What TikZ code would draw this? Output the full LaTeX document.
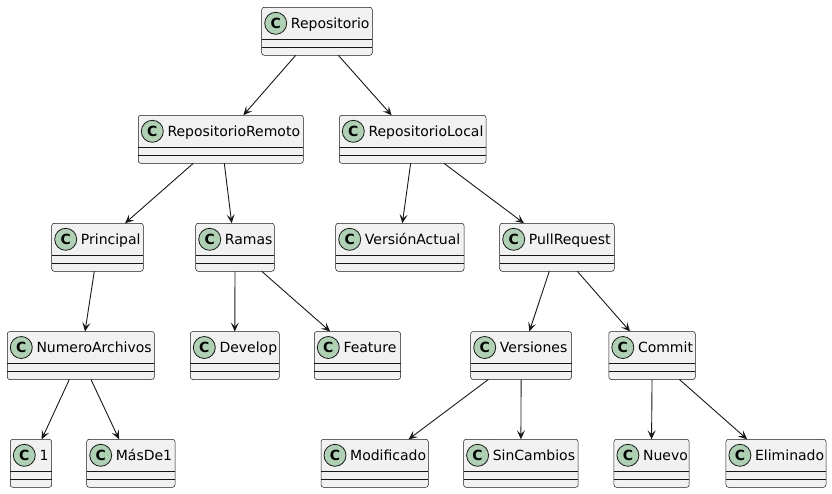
\documentclass[tikz,border=0pt]{standalone}
\usepackage{fontspec}
\setmainfont{DejaVu Sans}
\usetikzlibrary{arrows.meta,calc}
\definecolor{umlline}{HTML}{181818}
\definecolor{umlfill}{HTML}{F1F1F1}
\definecolor{umlcirc}{HTML}{ADD1B2}
\tikzset{
  umlbox/.style={draw=umlline, line width=0.5pt, fill=umlfill, rounded corners=2.5pt, rectangle, inner sep=0pt, outer sep=0pt, anchor=north west},
  umldiv/.style={draw=umlline, line width=0.5pt},
  umlcircle/.style={circle, draw=umlline, line width=0.8pt, fill=umlcirc, minimum size=22pt, inner sep=0pt, font=\fontsize{14}{14}\selectfont\bfseries},
  umllbl/.style={anchor=base west, inner sep=0pt, font=\fontsize{14}{16}\selectfont},
  umlarr/.style={draw=umlline, line width=0.9pt, -{Stealth[length=9pt,width=8pt,inset=4pt]}},
}
\newcommand\umlcls[5]{%
  \pgfmathsetmacro\clsw{#4-#2}%
  \node[umlbox, minimum width=\clsw pt, minimum height=48pt] (#1) at (#2,#3) {};
  \draw[umldiv] ([yshift=-32pt]#1.north west) -- ([yshift=-32pt]#1.north east);
  \draw[umldiv] ([yshift=-40pt]#1.north west) -- ([yshift=-40pt]#1.north east);
  \node[umlcircle] (#1-c) at ([xshift=14pt,yshift=-16pt]#1.north west) {C};
  \node[umllbl] (#1-t) at ([xshift=29pt,yshift=-21.3pt]#1.north west) {#5};
}
\begin{document}
\begin{tikzpicture}[x=1pt,y=-1pt]
\useasboundingbox (0,0) rectangle (832,493);
\umlcls{rep}{261.7}{7.3}{372.3}{Repositorio}
\umlcls{rem}{138.3}{115.3}{303.3}{RepositorioRemoto}
\umlcls{loc}{339.3}{115.3}{486}{RepositorioLocal}
\umlcls{pri}{51.7}{223.3}{143.3}{Principal}
\umlcls{ram}{195.7}{223.3}{274.3}{Ramas}
\umlcls{va}{335.7}{223.3}{464}{VersiónActual}
\umlcls{pr}{499.7}{223.3}{614.3}{PullRequest}
\umlcls{na}{7.3}{331.5}{154.3}{NumeroArchivos}
\umlcls{dev}{190.3}{331.5}{279.3}{Develop}
\umlcls{fea}{314.3}{331.5}{400.5}{Feature}
\umlcls{ver}{470.7}{331.5}{571.5}{Versiones}
\umlcls{com}{608.8}{331.5}{695.3}{Commit}
\umlcls{uno}{10.3}{439.3}{51.7}{1}
\umlcls{mas}{86.7}{439.3}{175}{MásDe1}
\umlcls{mod}{321}{439.3}{428.3}{Modificado}
\umlcls{sin}{463.6}{439.3}{578.2}{SinCambios}
\umlcls{nue}{613.9}{439.3}{689.2}{Nuevo}
\umlcls{eli}{725.9}{439.3}{826}{Eliminado}

\draw[umlarr] ([xshift=-21.3pt]rep.south) -- ([xshift=22.5pt]rem.north);
\draw[umlarr] ([xshift=21.3pt]rep.south) -- ([xshift=-21pt]loc.north);
\draw[umlarr] ([xshift=-27.5pt]rem.south) -- ([xshift=27.5pt]pri.north);
\draw[umlarr] ([xshift=3.5pt]rem.south) -- ([xshift=-3.3pt]ram.north);
\draw[umlarr] ([xshift=-2pt]loc.south) -- ([xshift=2.5pt]va.north);
\draw[umlarr] ([xshift=31.3pt]loc.south) -- ([xshift=-33pt]pr.north);
\draw[umlarr] ([xshift=-3.2pt]pri.south) -- ([xshift=4.2pt]na.north);
\draw[umlarr] (ram.south) -- (dev.north);
\draw[umlarr] ([xshift=26.7pt]ram.south) -- ([xshift=-27.2pt]fea.north);
\draw[umlarr] ([xshift=-7.7pt]pr.south) -- ([xshift=8.2pt]ver.north);
\draw[umlarr] ([xshift=20.3pt]pr.south) -- ([xshift=-22pt]com.north);
\draw[umlarr] ([xshift=-11.5pt]na.south) -- ([xshift=10.7pt]uno.north);
\draw[umlarr] ([xshift=10.2pt]na.south) -- ([xshift=-11.8pt]mas.north);
\draw[umlarr] ([xshift=-32.8pt]ver.south) -- ([xshift=33.9pt]mod.north);
\draw[umlarr] (ver.south) -- (sin.north);
\draw[umlarr] (com.south) -- (nue.north);
\draw[umlarr] ([xshift=27.4pt]com.south) -- ([xshift=-28.8pt]eli.north);
\end{tikzpicture}
\end{document}
